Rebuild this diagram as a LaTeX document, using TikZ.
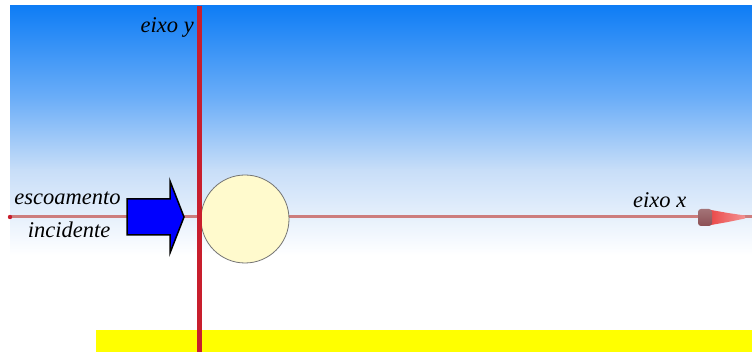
\documentclass[tikz,border=0pt]{standalone}
\usepackage{fontspec}
\setmainfont{Liberation Serif}
\definecolor{skyA}{RGB}{15,125,245}
\definecolor{skyB}{RGB}{110,175,248}
\definecolor{skyC}{RGB}{200,222,248}
\definecolor{axisred}{RGB}{200,30,45}
\definecolor{axispink}{RGB}{205,125,125}
\definecolor{conedark}{RGB}{140,80,85}
\definecolor{conered}{RGB}{235,75,75}
\definecolor{ballfill}{RGB}{255,250,205}
\definecolor{flowblue}{RGB}{0,0,255}
\definecolor{baryellow}{RGB}{255,255,0}
\tikzset{
  lbl/.style={inner sep=0pt, font=\fontsize{22.5}{27}\selectfont\itshape},
  yaxis/.style={draw=axisred, line width=4.5pt},
  xaxis/.style={draw=axispink, line width=3pt},
  ball/.style={circle, draw=gray!90!black, line width=0.8pt, fill=ballfill, minimum size=88pt, inner sep=0pt},
  flow/.style={fill=flowblue, draw=black, line width=1.5pt, line join=miter}
}
\begin{document}
\begin{tikzpicture}[x=1pt,y=-1pt]
\useasboundingbox (0,0) rectangle (752,352);
% sky background
\fill[white] (0,0) rectangle (752,352);
\shade[top color=skyA, bottom color=skyB] (10,6) rectangle (752,100.5);
\shade[top color=skyB, bottom color=skyC] (10,100) rectangle (752,170.5);
\shade[top color=skyC, bottom color=white] (10,170) rectangle (752,255);
% ground bar
\fill[baryellow] (96,330) rectangle (752,352);
% x axis
\coordinate (xstart) at (10,217);
\coordinate (xend) at (752,217);
\draw[xaxis] (xstart) -- (xend);
\fill[axisred] (xstart) circle (2.2pt);
% x axis arrowhead (cone)
\shade[left color=conered, right color=conered!60!white]
  (711,210) -- (728,213) -- (745,215.5) -- (745,218.5) -- (728,222) -- (711,225) -- cycle;
\shade[top color=conedark!80!white, bottom color=conedark, rounded corners=3pt]
  (698,209) rectangle (712,226);
% ball
\node[ball] (ball) at (245,219) {};
% y axis
\coordinate (ytop) at (199.5,6);
\coordinate (ybot) at (199.5,352);
\draw[yaxis] (ytop) -- (ybot);
% incident flow arrow
\draw[flow] (127,199) -- (170,199) -- (170,181) -- (184,217) -- (170,253) -- (170,235) -- (127,235) -- cycle;
% labels
\node[lbl, anchor=base east] (ly) at (194,33) {eixo y};
\node[lbl, anchor=base west] (lx) at (633,208) {eixo x};
\node[lbl, anchor=base] (lesc) at (67.5,205) {escoamento};
\node[lbl, anchor=base] (linc) at (69,238) {incidente};
\end{tikzpicture}
\end{document}
